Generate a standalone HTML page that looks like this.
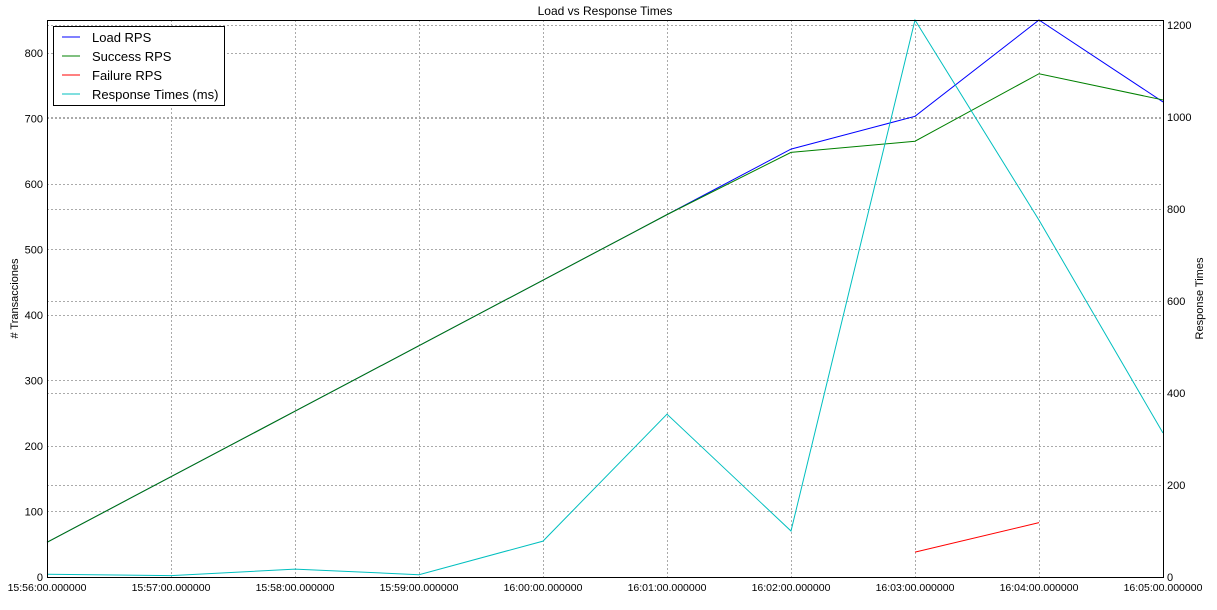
<!DOCTYPE html>
<html><head><meta charset="utf-8"><style>
body{margin:0;background:#fff;}
svg text{font-family:"Liberation Sans",sans-serif;}
</style></head><body>
<svg id="chart" width="1217" height="605" xmlns="http://www.w3.org/2000/svg"></svg>
<script>
const categories=["15:56:00.000000","15:57:00.000000","15:58:00.000000","15:59:00.000000","16:00:00.000000","16:01:00.000000","16:02:00.000000","16:03:00.000000","16:04:00.000000","16:05:00.000000"];
const loadRps=[53,153,253,353,453,553,653,703,850,725];
const successRps=[53,153,253,353,453,553,648,665,768,728];
const failureRps=[null,null,null,null,null,null,null,38,83,null];
const responseTimes=[6,3,17,5,78,354,100,1211,776,313];
const leftTicks=[0,100,200,300,400,500,600,700,800];
const rightTicks=[0,200,400,600,800,1000,1200];
const L=47,R=1163,T=20,B=577,LMAX=850,RMAX=1211;
const svg=document.getElementById('chart');
const NS='http://www.w3.org/2000/svg';
function x(i){return L+(R-L)*i/(categories.length-1);}
function yl(v){return B-(B-T)*v/LMAX;}
function yr(v){return B-(B-T)*v/RMAX;}
function px(v){return Math.round(v)+0.5;}
function mk(tag,attrs,parent){const e=document.createElementNS(NS,tag);for(const k in attrs)e.setAttribute(k,attrs[k]);(parent||svg).appendChild(e);return e;}
const gs='#aaaaaa';
categories.forEach((c,i)=>{const g=mk('line',{x1:px(x(i)),x2:px(x(i)),y1:T,y2:B,stroke:gs,'stroke-dasharray':'2,2','stroke-width':1,'shape-rendering':'crispEdges'});

const t=mk('text',{x:x(i),y:B+14,'font-size':10.5,'text-anchor':'middle'});t.textContent=c;
});
leftTicks.forEach(v=>{const g=mk('line',{x1:L,x2:R,y1:px(yl(v)),y2:px(yl(v)),stroke:gs,'stroke-dasharray':'2,2','shape-rendering':'crispEdges'});

const t=mk('text',{x:L-4,y:yl(v)+4,'font-size':11,'text-anchor':'end'});t.textContent=v;
});
rightTicks.forEach(v=>{const g=mk('line',{x1:L,x2:R,y1:px(yr(v)),y2:px(yr(v)),stroke:gs,'stroke-dasharray':'2,2','shape-rendering':'crispEdges'});

const t=mk('text',{x:R+4,y:yr(v)+4,'font-size':11});t.textContent=v;
});
function series(arr,fy,color,name){let d='',pen=false;arr.forEach((v,i)=>{if(v==null){pen=false;return;}d+=(pen?'L':'M')+x(i)+','+fy(v);pen=true;});
const p=mk('path',{d:d,fill:'none',stroke:color,'stroke-width':1});}
series(loadRps,yl,'#0000ff','load-rps-line');
series(successRps,yl,'#008000','success-rps-line');
series(failureRps,yl,'#ff0000','failure-rps-line');
series(responseTimes,yr,'#00bfbf','response-times-line');
const fr=mk('rect',{x:L+0.5,y:T+0.5,width:R-L,height:B-T,fill:'none',stroke:'#000','shape-rendering':'crispEdges'});

const ti=mk('text',{x:(L+R)/2,y:15,'font-size':12,'text-anchor':'middle'});ti.textContent='Load vs Response Times';

const yt=mk('text',{x:18,y:(T+B)/2,'font-size':11,'text-anchor':'middle',transform:'rotate(-90 18 '+(T+B)/2+')'});yt.textContent='# Transacciones';

const yt2=mk('text',{x:1203,y:(T+B)/2,'font-size':11,'text-anchor':'middle',transform:'rotate(-90 1203 '+(T+B)/2+')'});yt2.textContent='Response Times';

const lg=mk('g',{});
mk('rect',{x:53.5,y:26.5,width:171,height:79,fill:'#fff',stroke:'#000'},lg);
const items=[['Load RPS','#0000ff'],['Success RPS','#008000'],['Failure RPS','#ff0000'],['Response Times (ms)','#00bfbf']];
items.forEach((it,i)=>{const y=37+i*19;const g=mk('g',{},lg);

mk('line',{x1:62,x2:80,y1:y,y2:y,stroke:it[1]},g);
const t=mk('text',{x:92,y:y+5,'font-size':13},g);t.textContent=it[0];});
</script>
</body></html>
